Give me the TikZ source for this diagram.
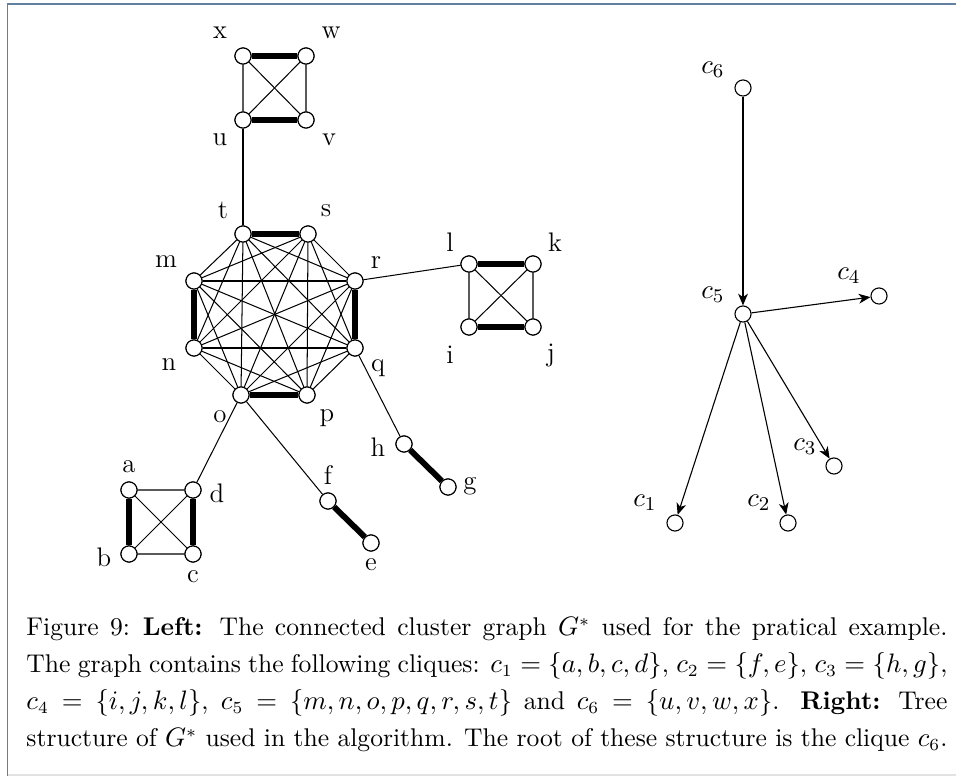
\documentclass[tikz,border=0pt]{standalone}
\usepackage{amsmath, amssymb}
\usetikzlibrary{arrows.meta}

\definecolor{framecol}{RGB}{98,128,160}
\definecolor{rulegray}{RGB}{226,226,226}

\begin{document}
\begin{tikzpicture}[
    x=0.41pt, y=-0.41pt,
    vertex/.style={draw, circle, fill=white, inner sep=0pt, minimum size=6.6pt, line width=0.45pt},
    lbl/.style={inner sep=0pt, font=\fontsize{11}{13}\selectfont},
    edge/.style={line width=0.42pt},
    heavy/.style={line width=2.4pt},
    arrow/.style={-{Stealth[length=4.8pt, width=4pt, inset=1.4pt]}, line width=0.45pt}
]
    \useasboundingbox (0,0) rectangle (956,776);

    % Frame
    \draw[rulegray, line width=0.8pt] (8,775) -- (956,775);
    \draw[framecol, line width=0.7pt] (7.5,776) -- (7.5,4) -- (956,4);

    % Vertices of G* with their labels
    \foreach \v/\px/\py/\lx/\ly in {
        x/243/56/220/33, w/306/56/331/33, u/243/120/220/140, v/306/120/329/140,
        t/243/234/223/210, s/308/234/326/211, r/355/281/376/263, q/355/348/378/368,
        p/307/395/327/418, o/241/395/220/417, n/194/348/169/365, m/194/281/166/262,
        l/469/264/450/242, k/533/264/555/242, i/469/327/450/355, j/533/327/551/355,
        a/129/490/129/467, d/193/490/217/493, b/129/554/104/557, c/193/554/193/577,
        f/328/501/328/475, e/371/543/371/565, h/404/444/378/447, g/448/487/470/486}
    {
        \node[vertex] (\v) at (\px,\py) {};
        \node[lbl] (l\v) at (\lx,\ly) {\v};
    }

    % Clique c5 (complete on eight vertices)
    \foreach \from/\others in {t/{s,r,q,p,o,n,m}, s/{r,q,p,o,n,m}, r/{q,p,o,n,m},
                               q/{p,o,n,m}, p/{o,n,m}, o/{n,m}, n/{m}}
        \foreach \to in \others
            \draw[edge] (\from) -- (\to);

    % Four-cliques
    \foreach \p/\q/\r/\s in {x/w/v/u, l/k/j/i, a/d/c/b}
    {
        \draw[edge] (\p) -- (\q) -- (\r) -- (\s) -- (\p) -- (\r);
        \draw[edge] (\q) -- (\s);
    }

    % Heavy edges
    \foreach \from/\to in {x/w, u/v, t/s, m/n, r/q, o/p, l/k, i/j, a/b, d/c, f/e, h/g}
        \draw[heavy] (\from) -- (\to);

    % Links between cliques
    \draw[edge] (u) -- (t);
    \draw[edge] (r) -- (l);
    \draw[edge] (q) -- (h);
    \draw[edge] (o) -- (d);
    \draw[edge] (o) -- (f);

    % Redraw vertices on top
    \foreach \v in {x,w,u,v,t,s,r,q,p,o,n,m,l,k,i,j,a,d,b,c,f,e,h,g}
        \node[vertex] at (\v) {};

    % Tree of cliques
    \foreach \v/\px/\py/\lx/\ly in {
        6/743/88/713/70, 5/743/314/713/295, 4/879/296/849/276,
        3/834/466/805/447, 1/675/523/645/503, 2/788/523/759/503}
    {
        \node[vertex] (c\v) at (\px,\py) {};
        \node[lbl] (lc\v) at (\lx,\ly) {$c_\v$};
    }
    \draw[arrow] (c6) -- (c5);
    \foreach \to in {c4, c3, c2, c1}
        \draw[arrow] (c5) -- (\to);

    % Caption
    \node[anchor=north west, inner sep=0pt, text width=377.6pt, align=justify,
          font=\fontsize{10.5}{15.2}\selectfont] (caption) at (26,617)
    {\noindent\parfillskip=0pt Figure 9:\enskip\textbf{Left:} The connected cluster graph $G^*$ used for the pratical example.\linebreak
     The graph contains the following cliques: $c_1=\{a,b,c,d\}$, $c_2=\{f,e\}$, $c_3=\{h,g\}$,\linebreak
     $c_4=\{i,j,k,l\}$, $c_5=\{m,n,o,p,q,r,s,t\}$ and $c_6=\{u,v,w,x\}$. \textbf{Right:} Tree\linebreak
     structure of $G^*$ used in the algorithm. The root of these structure is the clique $c_6$.};
\end{tikzpicture}
\end{document}
